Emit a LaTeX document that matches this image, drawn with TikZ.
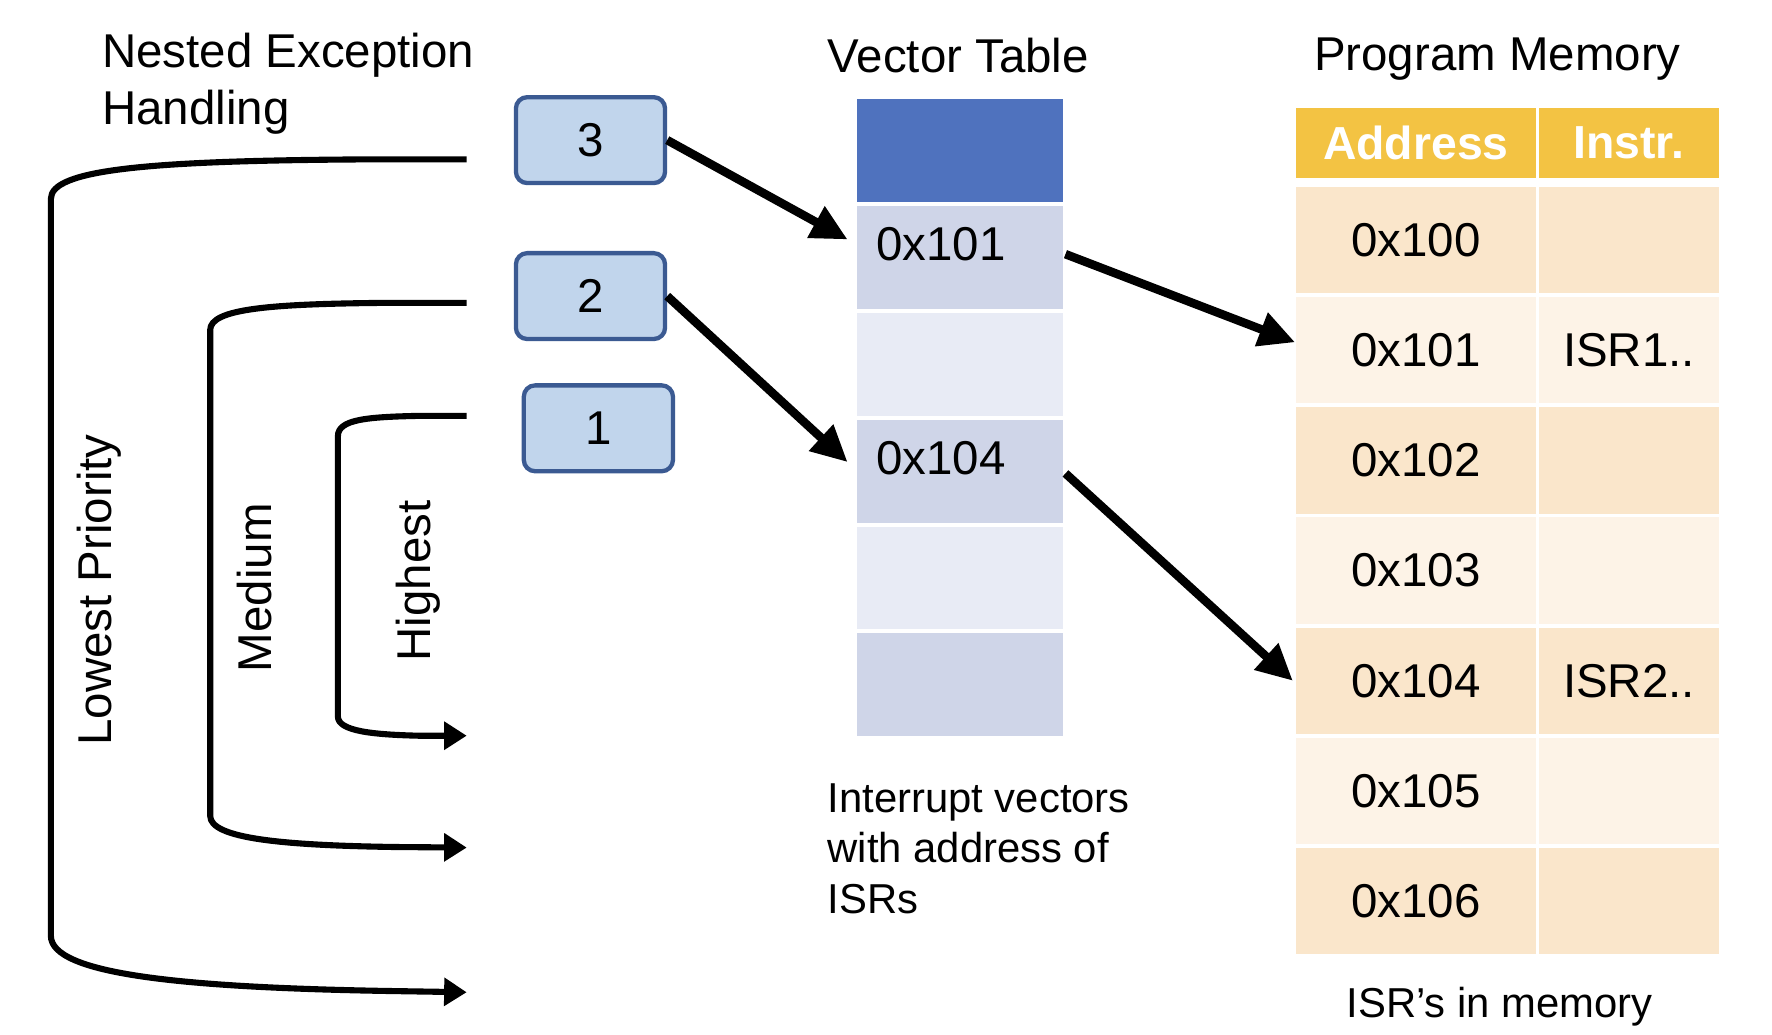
\documentclass[tikz,border=0pt]{standalone}
\usepackage{fontspec}
\setmainfont{Liberation Sans}
\usetikzlibrary{arrows.meta}
\definecolor{boxfill}{HTML}{C1D5EC}
\definecolor{boxline}{HTML}{3B5A92}
\definecolor{vtop}{HTML}{4F72BE}
\definecolor{vdark}{HTML}{CFD5E8}
\definecolor{vlight}{HTML}{E8EBF5}
\definecolor{hdr}{HTML}{F3C343}
\definecolor{rdark}{HTML}{FAE6CB}
\definecolor{rlight}{HTML}{FDF3E7}
\begin{document}
\begin{tikzpicture}[x=0.5pt,y=-0.5pt,
  txt/.style={font=\fontsize{21}{25}\selectfont, inner sep=0pt},
  small/.style={font=\fontsize{18.5}{22.3}\selectfont, inner sep=0pt},
  numbox/.style={draw=boxline, line width=1.9pt, fill=boxfill, rounded corners=5pt,
    minimum width=66pt, minimum height=38pt, inner sep=0pt, font=\fontsize{21}{25}\selectfont},
  vcell/.style={anchor=north west, minimum width=91pt, minimum height=45.5pt, inner sep=0pt},
  acell/.style={anchor=north west, minimum width=106.5pt, minimum height=47pt, inner sep=0pt,
    font=\fontsize{21}{25}\selectfont},
  icell/.style={anchor=north west, minimum width=80pt, minimum height=47pt, inner sep=0pt,
    font=\fontsize{21}{25}\selectfont},
  hcell/.style={anchor=north west, fill=hdr, minimum height=31pt, inner sep=0pt,
    text=white, font=\fontsize{20.5}{24}\selectfont\bfseries},
  bracket/.style={line width=2.7pt, line join=round, -{Triangle[length=10pt,width=12pt]}},
  bigarrow/.style={line width=3.8pt, -{Triangle[length=16pt,width=15pt]}}
]
\useasboundingbox (0,0) rectangle (1568,915);

% titles
\node[txt, anchor=north west, align=left] (title) at (90,29) {Nested Exception\\Handling};
\node[txt, anchor=base] (vtitle) at (848,64) {Vector Table};
\node[txt, anchor=base] (ptitle) at (1325,62) {Program Memory};

% numbered boxes
\node[numbox] (n3) at (522.5,124) {3};
\node[numbox] (n2) at (522.5,262) {2};
\node[numbox] (n1) at (529.5,379) {1};

% nesting brackets
\coordinate (l3) at (413,141);
\coordinate (lend) at (413,878);
\coordinate (m3) at (413,268);
\coordinate (mend) at (413,750);
\coordinate (h3) at (413,368);
\coordinate (hend) at (413,651);
\draw[bracket] (l3) -- (330,141) .. controls (130,142) and (45,150) .. (45,176) -- (45,828)
  .. controls (45,862) and (160,874) .. (350,877) -- (lend);
\draw[bracket] (m3) -- (340,268) .. controls (240,269) and (186,273) .. (186,292) -- (186,722)
  .. controls (186,742) and (250,748) .. (350,749.5) -- (mend);
\draw[bracket] (h3) -- (370,368) .. controls (325,369) and (299,371) .. (299,386) -- (299,634)
  .. controls (299,647) and (330,650) .. (370,651) -- (hend);

\node[txt, rotate=90] (lowlbl) at (88,522) {Lowest Priority};
\node[txt, rotate=90] (medlbl) at (225,520) {Medium};
\node[txt, rotate=90] (highlbl) at (370,514) {Highest};

% vector table
\node[vcell, fill=vtop] (v0) at (758,87) {};
\node[vcell, fill=vdark] (v1) at (758,182) {};
\node[vcell, fill=vlight] (v2) at (758,276.5) {};
\node[vcell, fill=vdark] (v3) at (758,371) {};
\node[vcell, fill=vlight] (v4) at (758,465.5) {};
\node[vcell, fill=vdark] (v5) at (758,560) {};
\node[txt, anchor=west] (v1t) at (775,216) {0x101};
\node[txt, anchor=west] (v3t) at (775,405) {0x104};

\node[small, anchor=north west, align=left] (vcap) at (732,693)
  {Interrupt vectors\\with address of\\ISRs};

% program memory
\node[hcell, minimum width=106.5pt] (ha) at (1146,95) {Address};
\node[hcell, minimum width=80pt] (hi) at (1361,95) {Instr.};
\foreach \i/\addr/\ins/\col in {1/0x100//rdark, 2/0x101/ISR1../rlight, 3/0x102//rdark,
  4/0x103//rlight, 5/0x104/ISR2../rdark, 6/0x105//rlight, 7/0x106//rdark}{
  \pgfmathsetmacro{\t}{165+97.5*(\i-1)}
  \node[acell, fill=\col] (a\i) at (1146,\t) {\addr};
  \node[icell, fill=\col] (b\i) at (1361,\t) {\ins};
}
\node[small, anchor=base] (pcap) at (1327,900) {ISR’s in memory};

% arrows
\draw[bigarrow] (n3.east) -- ([xshift=-4pt,yshift=8pt]v1.west);
\draw[bigarrow] (n2.east) -- ([xshift=-4pt,yshift=4pt]v3.west);
\draw[bigarrow] ([xshift=1pt,yshift=1.5pt]v1.east) -- ([yshift=3.5pt]a2.west);
\draw[bigarrow] ([xshift=1pt,yshift=-1pt]v3.east) -- ([xshift=-1pt]a5.west);
\end{tikzpicture}
\end{document}
